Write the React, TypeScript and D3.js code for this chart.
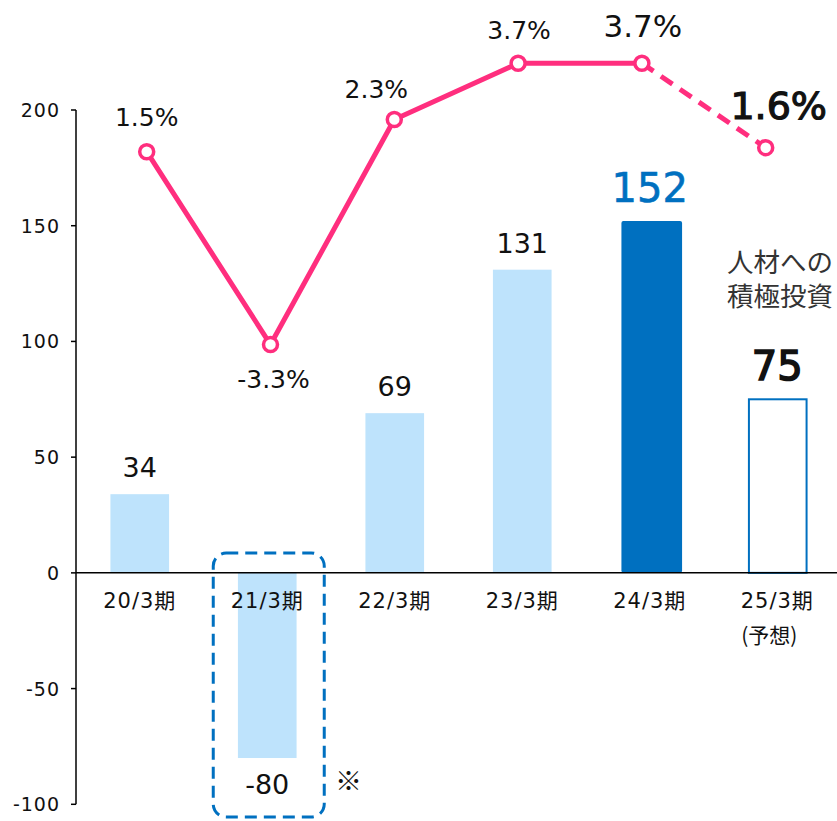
import React from "react";
import * as d3 from "d3";

const categories = ["20/3期", "21/3期", "22/3期", "23/3期", "24/3期", "25/3期"];
const investment = [34, -80, 69, 131, 152, 75];
const growthRate = [1.5, -3.3, 2.3, 3.7, 3.7, 1.6];
const growthLabels = ["1.5%", "-3.3%", "2.3%", "3.7%", "3.7%", "1.6%"];
const yTicks = [-100, -50, 0, 50, 100, 150, 200];
const forecastNote = "(予想)";
const annotationLines = ["人材への", "積極投資"];

const W = 837;
const H = 821;
const FONT = "'DejaVu Sans', 'Noto Sans CJK JP', sans-serif";
const CJK = "'Noto Sans CJK JP', sans-serif";
const PINK = "#ff2e7e";
const LIGHT = "#bee3fc";
const BLUE = "#0070c0";

export default function App() {
  const axisX = 76;
  const y = d3.scaleLinear().domain([-100, 200]).range([804.3, 110]);
  const x = d3
    .scaleBand<string>()
    .domain(categories)
    .range([axisX, axisX + 6 * 127.5])
    .paddingInner(0.54)
    .paddingOuter(0.27);
  const xl = d3.scalePoint<string>().domain(categories).range([146.7, 765.7]);
  const yl = d3.scaleLinear().domain([1.5, 3.7]).range([151.7, 63.3]);

  const pts: [number, number][] = categories.map((c, i) => [xl(c)!, yl(growthRate[i])]);
  const line = d3.line();
  const solid = line(pts.slice(0, 5))!;
  const dashed = line(pts.slice(4))!;

  const bw = x.bandwidth();
  const cx = (c: string) => x(c)! + bw / 2;

  const barLabelY = (i: number) => {
    const v = investment[i];
    if (v < 0) return y(v) + 36;
    if (i >= 4) return y(v) - 19;
    return y(v) - 17;
  };

  const lineLabelDx = [0, 3, -18, 1, 1, 13];
  const lineLabelDy = [-26, 43, -22, -24, -26, -29];
  const lineLabelSize = [25, 25, 25, 25, 31, 38];

  const zeroY = y(0);
  const c21 = cx(categories[1]);

  return (
    <svg
      width={W}
      height={H}
      style={{ position: "absolute", left: 0, top: 0, background: "#fff" }}
      fontFamily={FONT}
    >
      <line x1={axisX} x2={axisX} y1={y(200)} y2={y(-100)} stroke="#000" strokeWidth={1.5} />
      {yTicks.map((t) => (
        <g key={t}>
          <line x1={axisX - 5} x2={axisX} y1={y(t)} y2={y(t)} stroke="#000" strokeWidth={1.5} />
          <text x={60} y={y(t) + 7} textAnchor="end" fontSize={19} letterSpacing={1} fill="#111">
            {t}
          </text>
        </g>
      ))}

      {categories.map((c, i) => {
        const v = investment[i];
        const top = Math.min(y(v), zeroY);
        const h = Math.abs(y(v) - zeroY);
        if (i === 4)
          return <rect key={c} x={x(c)! + 1} y={top} width={bw + 2} height={h} rx={2} fill={BLUE} />;
        if (i === 5)
          return (
            <rect
              key={c}
              x={x(c)! + 1}
              y={top}
              width={bw - 1}
              height={h}
              fill="#fff"
              stroke={BLUE}
              strokeWidth={2}
            />
          );
        return <rect key={c} x={x(c)!} y={top} width={bw} height={h} fill={LIGHT} />;
      })}

      <line x1={axisX} x2={W} y1={zeroY} y2={zeroY} stroke="#000" strokeWidth={1.5} />

      <rect
        x={c21 - 54}
        y={553}
        width={111}
        height={264}
        rx={13}
        fill="none"
        stroke={BLUE}
        strokeWidth={3}
        strokeDasharray="12 7"
      />
      <text x={335} y={791} fontSize={27} fill="#111" fontFamily={CJK}>
        ※
      </text>

      {categories.map((c) => (
        <text key={c} x={cx(c)} y={608} textAnchor="middle" fontSize={21} letterSpacing={1} fill="#111">
          {c}
        </text>
      ))}
      <text x={cx(categories[5]) - 8} y={643} textAnchor="middle" fontSize={21} fill="#111" fontFamily={CJK}>
        {forecastNote}
      </text>

      {categories.map((c, i) => {
        const big = i >= 4;
        return (
          <text
            key={c}
            x={cx(c)}
            y={barLabelY(i)}
            textAnchor="middle"
            fontSize={big ? 40 : 27}
            fill={i === 4 ? BLUE : "#111"}
            stroke={big ? (i === 4 ? BLUE : "#111") : "none"}
            strokeWidth={i === 5 ? 1.6 : 0.6}
          >
            {investment[i]}
          </text>
        );
      })}

      {annotationLines.map((t, i) => (
        <text key={t} x={727} y={272 + i * 34} fontSize={26.5} fill="#333" fontFamily={FONT}>
          {t}
        </text>
      ))}

      <path d={solid} fill="none" stroke={PINK} strokeWidth={5} strokeLinejoin="round" />
      <path d={dashed} fill="none" stroke={PINK} strokeWidth={5} strokeDasharray="14 9" />
      {pts.map(([px, py], i) => (
        <circle key={i} cx={px} cy={py} r={7} fill="#fff" stroke={PINK} strokeWidth={3.5} />
      ))}

      {pts.map(([px, py], i) => (
        <text
          key={i}
          x={px + lineLabelDx[i]}
          y={py + lineLabelDy[i]}
          textAnchor="middle"
          fontSize={lineLabelSize[i]}
          fill="#111"
          stroke={i === 5 ? "#111" : "none"}
          strokeWidth={1.2}
        >
          {growthLabels[i]}
        </text>
      ))}
    </svg>
  );
}
